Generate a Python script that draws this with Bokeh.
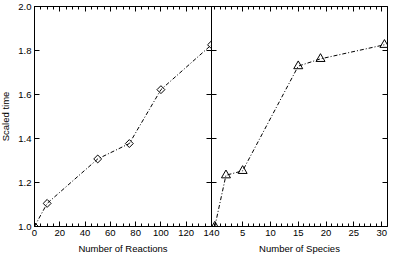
import math
from bokeh.plotting import figure
from bokeh.models import (Range1d, LinearAxis, FixedTicker, PrintfTickFormatter,
                          CustomLabelingPolicy, CustomJSTickFormatter)
from bokeh.layouts import row
from bokeh.embed import file_html
from bokeh.resources import INLINE

# ---- data ----
reactions = [0, 10, 50, 75, 100, 140]
time_vs_reactions = [1.0, 1.105, 1.307, 1.377, 1.622, 1.826]

species = [0, 2, 5, 15, 19, 30.5]
time_vs_species = [1.0, 1.233, 1.253, 1.729, 1.762, 1.826]

y_ticks = [1.0, 1.2, 1.4, 1.6, 1.8, 2.0]
reaction_ticks = [0, 20, 40, 60, 80, 100, 120, 140]
reaction_minor = list(range(0, 141, 5))
species_ticks = [5, 10, 15, 20, 25, 30]
species_minor = list(range(0, 32, 1))

FONT = "Liberation Sans"
FS = "9.5px"
OVERLAP = 12
FRAME_H = 220

NO_LABELS = "for (let i = 0; i < indices.size; i++) { indices.unset(i) } return indices"


def style_axis(ax, ticks, minor, labels=True, line=True):
    ax.ticker = FixedTicker(ticks=ticks, minor_ticks=minor)
    ax.major_tick_in = 5
    ax.major_tick_out = 0
    ax.minor_tick_in = 3 if minor else 0
    ax.minor_tick_out = 0
    ax.axis_line_color = "black" if line else None
    ax.major_tick_line_color = "black"
    ax.minor_tick_line_color = "black"
    ax.major_label_text_font = FONT
    ax.major_label_text_color = "black"
    ax.major_label_text_font_size = FS
    ax.axis_label_text_font = FONT
    ax.axis_label_text_font_size = FS
    ax.axis_label_text_font_style = "normal"
    ax.axis_label_text_color = "black"
    if labels:
        ax.major_label_standoff = 3
        ax.axis_label_standoff = 4
    else:
        ax.major_label_standoff = 0
        ax.formatter = CustomJSTickFormatter(code="return ''")
        ax.major_label_policy = CustomLabelingPolicy(code=NO_LABELS)


def make_fig(xr, frame_w, **kw):
    p = figure(x_range=xr, y_range=Range1d(1.0, 2.0), frame_width=frame_w,
               frame_height=FRAME_H, output_backend="svg", toolbar_location=None,
               min_border=0, **kw)
    p.grid.visible = False
    p.outline_line_color = None
    p.background_fill_color = "white"
    return p


# ---- left panel ----
p1 = make_fig(Range1d(0, 140), 177, min_border_top=6, min_border_right=OVERLAP,
              border_fill_color="white")
style_axis(p1.xaxis[0], reaction_ticks, reaction_minor)
p1.xaxis[0].axis_label = "Number of Reactions"
style_axis(p1.yaxis[0], y_ticks, [])
p1.yaxis[0].formatter = PrintfTickFormatter(format="%.1f")
p1.yaxis[0].axis_label = "Scaled time"
p1.yaxis[0].axis_label_standoff = 4
top1 = LinearAxis()
style_axis(top1, reaction_ticks, reaction_minor, labels=False)
p1.add_layout(top1, "above")
right1 = LinearAxis()
style_axis(right1, y_ticks, [], labels=False)
p1.add_layout(right1, "right")

p1.line(reactions, time_vs_reactions, line_color="black", line_width=1,
        line_dash="4 2 1 2")
p1.scatter(reactions, time_vs_reactions, marker="square", size=5.6,
           angle=math.pi / 4, fill_color=None, line_color="black", line_width=1)

# ---- right panel ----
p2 = make_fig(Range1d(-0.6, 31.05), 176, min_border_top=6, min_border_right=4,
              min_border_left=OVERLAP, border_fill_color=None,
              margin=(0, 0, 0, -2 * OVERLAP))
style_axis(p2.xaxis[0], species_ticks, species_minor)
p2.xaxis[0].axis_label = "Number of Species"
style_axis(p2.yaxis[0], y_ticks, [], labels=False, line=True)
top2 = LinearAxis()
style_axis(top2, species_ticks, species_minor, labels=False)
p2.add_layout(top2, "above")
right2 = LinearAxis()
style_axis(right2, y_ticks, [], labels=False)
p2.add_layout(right2, "right")

p2.line(species, time_vs_species, line_color="black", line_width=1,
        line_dash="4 2 1 2")
p2.scatter(species, time_vs_species, marker="triangle", size=9,
           fill_color=None, line_color="black", line_width=1)

layout = row(p1, p2, spacing=0, margin=(0, 0, -8, -3))

open("out.html", "w").write(file_html(layout, INLINE))
